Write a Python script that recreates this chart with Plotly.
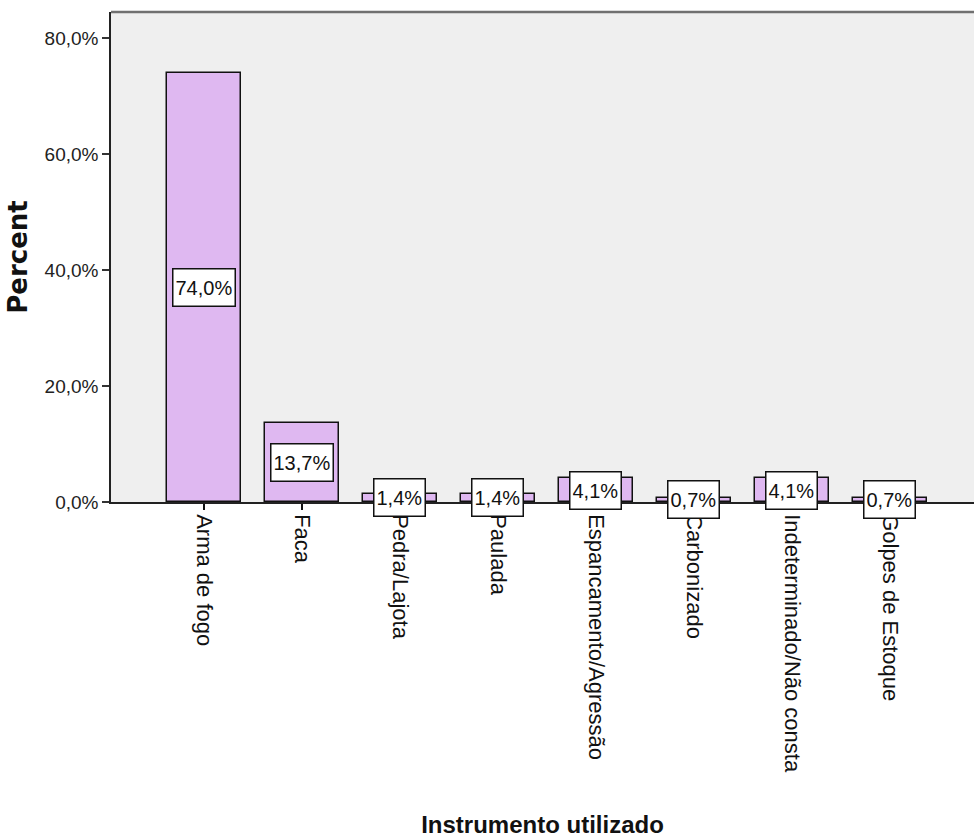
import plotly.graph_objects as go

# Instrument used (percent of cases)
categories = ["Arma de fogo", "Faca", "Pedra/Lajota", "Paulada",
              "Espancamento/Agressão", "Carbonizado",
              "Indeterminado/Não consta", "Golpes de Estoque"]
percents = [74.0, 13.7, 1.4, 1.4, 4.1, 0.7, 4.1, 0.7]

y_tick_values = [0, 20, 40, 60, 80]
y_tick_labels = ["0,0%", "20,0%", "40,0%", "60,0%", "80,0%"]

x_idx = list(range(len(categories)))

BAR_COLOR = "#dfb8f1"
NUM_FONT = "Liberation Sans, Arial"


def pct_label(v):
    return f"{v:.1f}%".replace(".", ",")


fig = go.Figure()
fig.add_trace(go.Bar(
    x=x_idx,
    y=percents,
    width=0.755,
    marker=dict(color=BAR_COLOR, line=dict(color="#111111", width=1.5)),
    hoverinfo="skip",
    showlegend=False,
))

# Boxed value labels centred on each bar
for i, v in zip(x_idx, percents):
    fig.add_annotation(
        x=i, y=v / 2, xref="x", yref="y",
        text=pct_label(v), showarrow=False,
        font=dict(family=NUM_FONT, size=20, color="#111111"),
        bgcolor="white", bordercolor="#111111", borderwidth=1.5,
        borderpad=2, height=32,
    )

# Frame line along the top of the plot area
fig.add_shape(type="line", xref="paper", yref="paper",
              x0=0, x1=1, y0=1, y1=1,
              line=dict(color="#707070", width=2.5))

fig.update_layout(
    width=974, height=839,
    margin=dict(l=111, r=0, t=12, b=337),
    paper_bgcolor="white",
    plot_bgcolor="#efefef",
    bargap=0,
    xaxis=dict(
        range=[-0.95, 7.86],
        tickmode="array", tickvals=x_idx, ticktext=categories,
        tickangle=90,
        tickfont=dict(family="Liberation Sans, Arial", size=22, color="#111111"),
        ticks="outside", ticklen=6, tickwidth=1.5, tickcolor="#111111",
        showline=True, linecolor="#222222", linewidth=1.5,
        showgrid=False, zeroline=False,
        title=dict(text="<b>Instrumento utilizado</b>",
                   font=dict(family="Liberation Sans, Arial", size=24, color="#111111"),
                   standoff=44),
    ),
    yaxis=dict(
        range=[0, 84.5],
        tickmode="array", tickvals=y_tick_values, ticktext=y_tick_labels,
        tickfont=dict(family=NUM_FONT, size=19, color="#222222"),
        ticks="outside", ticklen=7, tickwidth=1.5, tickcolor="#333333",
        showline=True, linecolor="#222222", linewidth=1.5,
        showgrid=False, zeroline=False,
        title=dict(text="<b>Percent</b>",
                   font=dict(family="DejaVu Sans", size=26, color="#111111"),
                   standoff=9),
    ),
)

fig.write_html("out.html")
